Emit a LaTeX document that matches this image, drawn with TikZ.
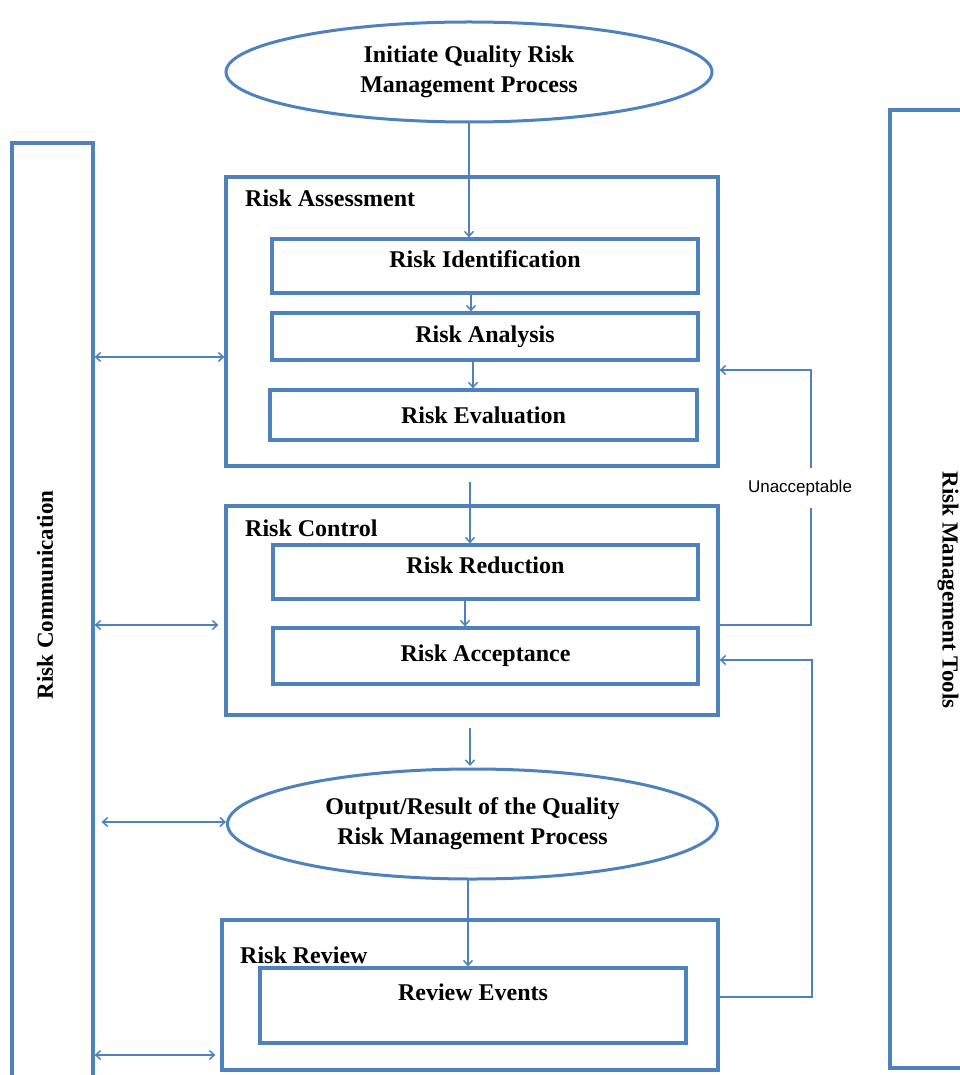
\documentclass[tikz,border=0pt]{standalone}
\usepackage{fontspec}
\setmainfont{Liberation Serif}
\newfontfamily\lsans{Liberation Sans}
\usetikzlibrary{arrows.meta,shapes.geometric,calc}
\definecolor{ob}{RGB}{79,129,189}
\begin{document}
\begin{tikzpicture}[x=1pt,y=-1pt,
  box/.style={draw=ob, line width=3.2pt, rectangle, inner sep=0pt},
  oval/.style={draw=ob, line width=3pt, ellipse, inner sep=0pt},
  txt/.style={font=\fontsize{24}{30}\selectfont\bfseries, text=black, align=center},
  stxt/.style={font=\fontsize{23}{30}\selectfont\bfseries, text=black, align=center},
  conn/.style={draw=ob, line width=1.5pt},
  arr/.style={conn, -{Straight Barb[length=5pt,width=9pt]}},
  darr/.style={conn, {Straight Barb[length=5pt,width=9pt]}-{Straight Barb[length=5pt,width=9pt]}},
]
\useasboundingbox (0,0) rectangle (959,1075);

% side boxes
\node[box, minimum width=81pt, minimum height=957pt] (comm) at (52.5,621.5) {};
\node[stxt, rotate=90] (commT) at (45,595) {Risk Communication};
\node[box, minimum width=85pt, minimum height=958pt] (tools) at (932.5,589) {};
\node[stxt, rotate=-90] (toolsT) at (948,590) {Risk Management Tools};

% top ellipse
\node[oval, txt, minimum width=486pt, minimum height=100pt] (init) at (469,72) {Initiate Quality Risk\\Management Process};

% risk assessment
\node[box, minimum width=492pt, minimum height=289pt] (RA) at (472,321.5) {};
\node[txt, anchor=west, inner sep=0pt] (RAl) at (245,198) {Risk Assessment};
\node[box, txt, text depth=14pt, minimum width=426pt, minimum height=54pt] (RI) at (485,266) {Risk Identification};
\node[box, txt, minimum width=426pt, minimum height=47pt] (RAn) at (485,336.5) {Risk Analysis};
\node[box, txt, minimum width=427pt, minimum height=50pt] (RE) at (483.5,415) {Risk Evaluation};

% risk control
\node[box, minimum width=492pt, minimum height=209pt] (RC) at (472,610.5) {};
\node[txt, anchor=west, inner sep=0pt] (RCl) at (245,528) {Risk Control};
\node[box, txt, text depth=14pt, minimum width=425pt, minimum height=54pt] (RR) at (485.5,572) {Risk Reduction};
\node[box, txt, minimum width=425pt, minimum height=56pt] (RAc) at (485.5,656) {Risk Acceptance};

% output ellipse
\node[oval, txt, minimum width=490pt, minimum height=110pt] (out) at (472.5,824) {Output/Result of the Quality\\Risk Management Process};

% risk review
\node[box, minimum width=496pt, minimum height=150pt] (RRev) at (470,995) {};
\node[txt, anchor=west, inner sep=0pt] (RRevl) at (240,955) {Risk Review};
\node[box, minimum width=426pt, minimum height=75pt] (REv) at (473,1005.5) {};
\node[txt] (REvT) at (473,992) {Review Events};

% vertical flow
\draw[arr] (init.south) -- (init.south |- RI.north);
\coordinate (v1) at (471,0);
\coordinate (v2) at (473,0);
\draw[arr] (v1 |- RI.south) -- (v1 |- RAn.north);
\draw[arr] (v2 |- RAn.south) -- (v2 |- RE.north);
\coordinate (a1) at (470,482);
\draw[arr] (a1) -- (a1 |- RR.north);
\coordinate (v3) at (465,0);
\draw[arr] (v3 |- RR.south) -- (v3 |- RAc.north);
\coordinate (a2) at (470,728);
\draw[arr] (a2) -- (470,766);
\coordinate (a3) at (468,880);
\draw[arr] (a3) -- (a3 |- REv.north);

% communication arrows
\coordinate (l1) at (0,357);
\coordinate (l2) at (0,625);
\coordinate (l3) at (0,822);
\coordinate (l4) at (0,1055);
\draw[darr] (comm.east |- l1) -- (RA.west |- l1);
\draw[darr, shorten >=6pt] (comm.east |- l2) -- (RC.west |- l2);
\draw[darr, shorten <=7pt] (comm.east |- l3) -- (out.west |- l3);
\draw[darr, shorten >=5pt] (comm.east |- l4) -- (RRev.west |- l4);

% feedback loops
\coordinate (f1) at (811,625);
\coordinate (f2) at (811,370);
\draw[arr] (RC.east |- f1) -- (f1) -- (f2) -- (RA.east |- f2);
\node[font=\lsans\fontsize{17}{18}\selectfont, fill=white, inner xsep=1pt, minimum height=40pt] (unacc) at (800,488) {Unacceptable};
\coordinate (g1) at (812,997);
\coordinate (g2) at (812,660);
\draw[arr] (RRev.east |- g1) -- (g1) -- (g2) -- (RC.east |- g2);
\end{tikzpicture}
\end{document}
